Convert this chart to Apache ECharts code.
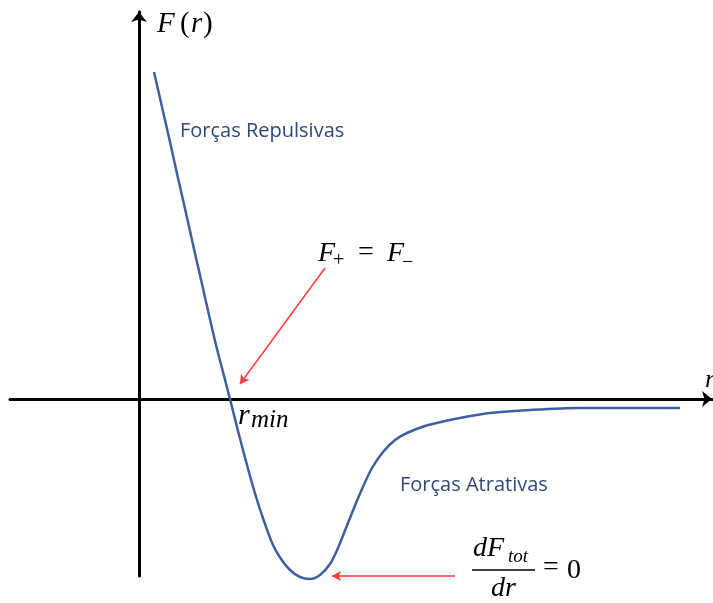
<!DOCTYPE html>
<html>
<head>
<meta charset="utf-8">
<script src="https://cdn.jsdelivr.net/npm/echarts@6/dist/echarts.min.js"></script>
<style>
html,body{margin:0;padding:0;background:#fff;}
#chart{width:713px;height:603px;}
</style>
</head>
<body>
<div id="chart"></div>
<script>
// Curve F(r) (arbitrary units, origin at axis crossing)
var rValues = [1.5, 2.3, 3.1, 3.9, 4.7, 5.5, 6.3, 7.0, 7.7, 8.4, 9.1, 9.8, 10.4, 11.1, 11.8, 12.6, 13.4, 14.2, 15.1, 16.1, 17.1, 18.1, 19.1, 19.9, 20.7, 21.5, 22.3, 23.3, 24.4, 25.6, 26.8, 28.6, 30.6, 32.6, 35.1, 39.1, 44.1, 49.1, 54.1];
var fValues = [32.7, 29.2, 25.7, 22.1, 18.6, 15.0, 11.5, 8.4, 5.4, 2.7, 0.0, -2.8, -5.1, -7.7, -10.1, -12.5, -14.6, -16.0, -17.1, -17.8, -18.0, -17.6, -16.5, -14.9, -12.9, -10.9, -9.0, -6.9, -5.3, -4.1, -3.4, -2.7, -2.2, -1.8, -1.4, -1.1, -0.9, -0.9, -0.9];
// Annotation arrows (data coordinates): [fromR, fromF, toR, toF]
var arrowEq = [18.6, 13.1, 10.1, 1.5];
var arrowMin = [31.6, -17.7, 19.3, -17.7];

var chart = echarts.init(document.getElementById('chart'), null, {renderer: 'canvas'});

var curve = rValues.map(function (r, i) { return [r, fValues[i]]; });

var SERIF = '"Liberation Serif", "DejaVu Serif", serif';
var SANS = '"Open Sans", "Noto Sans", sans-serif';
function t(str, x, y, size, italic, family, color) {
  return {
    type: 'text', x: x, y: y, silent: true, z: 100,
    style: {
      text: str,
      font: (italic ? 'italic ' : '') + size + 'px ' + (family || SERIF),
      fill: color || '#000',
      textAlign: 'left',
      textVerticalAlign: 'middle'
    }
  };
}
var labelBlue = '#2F4878';

var graphics = [
  // F(r)
  t('F', 157, 24, 29, true),
  t('(', 180, 24, 29, false),
  t('r', 191, 24, 29, true),
  t(')', 203, 24, 29, false),
  // axis name r (cut at right border)
  t('r', 705, 380, 26, true),
  // Forças labels
  t('Forças Repulsivas', 180, 131, 20, false, SANS, labelBlue),
  t('Forças Atrativas', 400, 485, 20, false, SANS, labelBlue),
  // F+ = F-
  t('F', 318, 254, 28, true),
  t('+', 333, 261, 20, false),
  t('=', 358, 253, 28, false),
  t('F', 387, 254, 28, true),
  t('\u2212', 402, 263, 20, false),
  // r_min
  t('r', 238, 416, 30, true),
  t('min', 251, 420, 25, true),
  // dF_tot/dr = 0
  t('dF', 473, 549, 28, true),
  t('tot', 508, 557, 19, true),
  {type: 'line', silent: true, z: 100, shape: {x1: 472, y1: 570, x2: 535, y2: 570}, style: {stroke: '#000', lineWidth: 1.5}},
  t('dr', 491, 589, 28, true),
  t('=', 543, 568, 28, false),
  t('0', 567, 571, 28, false)
];

var option = {
  animation: false,
  backgroundColor: '#fff',
  grid: {left: 10, right: 1, top: 12, bottom: 27, containLabel: false},
  xAxis: {
    type: 'value', min: -12.9, max: 57.3,
    axisLine: {show: true, onZero: true, symbol: ['none', 'arrow'], symbolSize: [12, 10], lineStyle: {color: '#000', width: 3}},
    axisTick: {show: false}, axisLabel: {show: false}, splitLine: {show: false}
  },
  yAxis: {
    type: 'value', min: -17.7, max: 38.7,
    axisLine: {show: true, onZero: true, symbol: ['none', 'arrow'], symbolSize: [12, 10], lineStyle: {color: '#000', width: 3}},
    axisTick: {show: false}, axisLabel: {show: false}, splitLine: {show: false}
  },
  series: [{
    type: 'line',
    data: curve,
    smooth: 0.3,
    symbol: 'none',
    clip: false,
    lineStyle: {color: '#3E5FA0', width: 2.5},
    z: 5,
    markLine: {
      silent: true,
      animation: false,
      symbol: ['none', 'arrow'],
      symbolSize: [8, 9],
      label: {show: false},
      lineStyle: {color: '#FF3B3B', width: 1.5, type: 'solid'},
      emphasis: {disabled: true},
      data: [
        [{coord: [arrowEq[0], arrowEq[1]]}, {coord: [arrowEq[2], arrowEq[3]]}],
        [{coord: [arrowMin[0], arrowMin[1]]}, {coord: [arrowMin[2], arrowMin[3]]}]
      ]
    }
  }],
  graphic: graphics
};
chart.setOption(option);
</script>
</body>
</html>
